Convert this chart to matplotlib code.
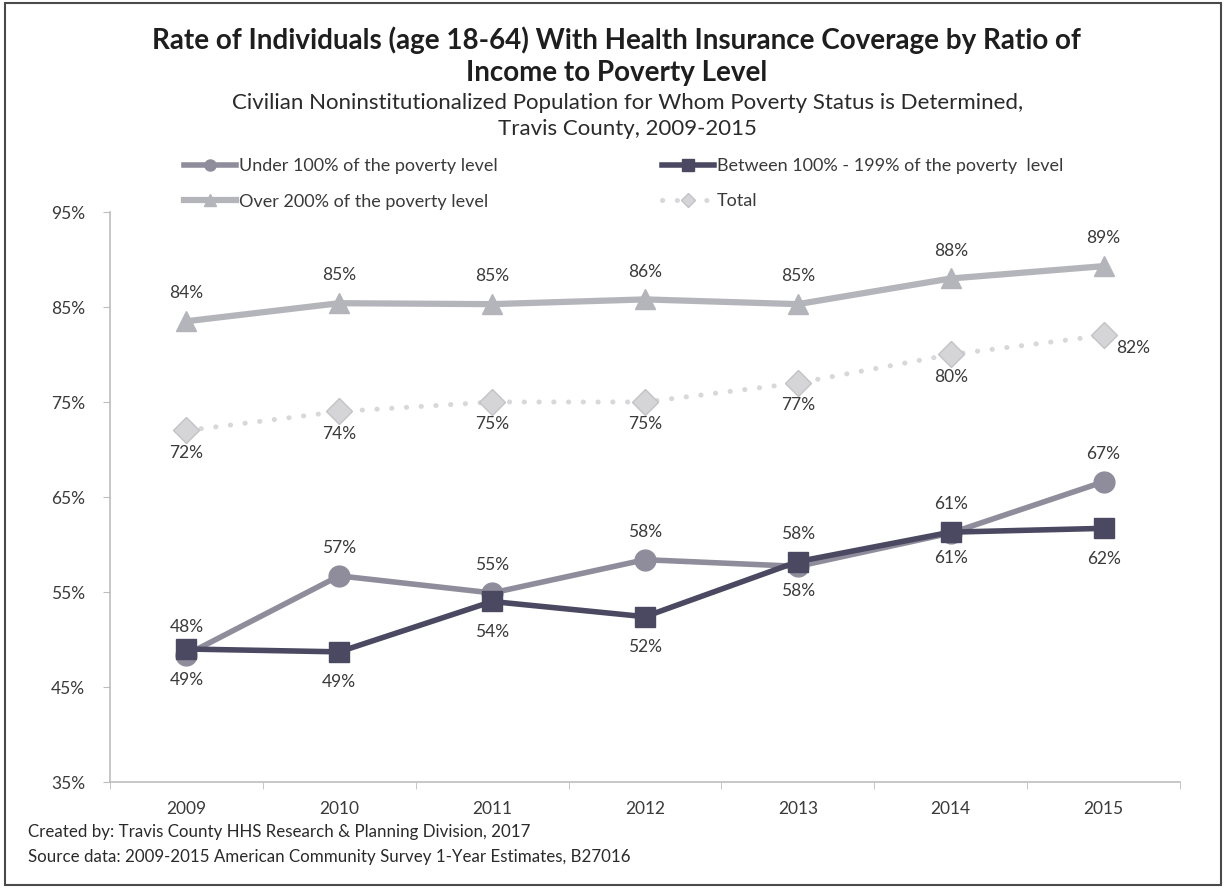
import numpy as np
import matplotlib
matplotlib.use("Agg")
import matplotlib.pyplot as plt
from matplotlib.lines import Line2D
from matplotlib.patches import Rectangle

plt.rcParams['font.family'] = ['Lato', 'DejaVu Sans']

# data
years = ['2009', '2010', '2011', '2012', '2013', '2014', '2015']
under_100 = [48.4, 56.7, 54.9, 58.4, 57.7, 61.2, 66.6]
between_100_199 = [49.0, 48.7, 54.0, 52.4, 58.2, 61.3, 61.7]
over_200 = [83.5, 85.4, 85.3, 85.8, 85.3, 88.0, 89.3]
total = [72.0, 74.0, 75.0, 75.0, 77.0, 80.0, 82.0]
y_ticks = [35, 45, 55, 65, 75, 85, 95]

# where each value label goes (above / below the point)
under_pos = ['up', 'up', 'up', 'up', 'down', 'down', 'up']
between_pos = ['down', 'down', 'down', 'down', 'up', 'up', 'down']

c_under = '#8f8d9b'
c_between = '#4b4962'
c_over = '#b4b4bb'
c_total = '#d8d8db'
txt = '#3a3a3a'

fig = plt.figure(figsize=(12.25, 8.88), dpi=100)
ax = fig.add_axes([110 / 1225, 1 - 782 / 888, 1070 / 1225, 570 / 888])
x = np.arange(len(years))

ax.plot(x, total, color=c_total, lw=3.6, linestyle=(0, (0.05, 2.9)),
        dash_capstyle='round', marker='D', ms=13, mfc='#d5d5d8', mec='#c3c3c7', mew=1, zorder=2)
ax.plot(x, over_200, color=c_over, lw=4.5, marker='^', ms=15, mfc=c_over, mec=c_over, zorder=3)
ax.plot(x, under_100, color=c_under, lw=4, marker='o', ms=15, mfc=c_under, mec=c_under, zorder=4)
ax.plot(x, between_100_199, color=c_between, lw=4, marker='s', ms=14, mfc=c_between, mec=c_between, zorder=5)

def label(xi, v, dy, dx=0, ha='center'):
    ax.annotate('%d%%' % round(v), (xi, v), xytext=(dx, dy), textcoords='offset points',
                ha=ha, va='center', fontsize=12.5, color=txt)

for i in range(len(years)):
    label(i, over_200[i], 20)
    if i == len(years) - 1:
        label(i, total[i], -9, dx=9, ha='left')
    else:
        label(i, total[i], -16)
    label(i, under_100[i], 20 if under_pos[i] == 'up' else -18)
    label(i, between_100_199[i], 20 if between_pos[i] == 'up' else -22)

ax.set_xlim(-0.5, len(years) - 0.5)
ax.set_ylim(35, 95)
ax.set_yticks(y_ticks)
ax.set_yticklabels(['%d%%' % t for t in y_ticks])
ax.set_xticks(x)
ax.set_xticklabels(years)
ax.set_xticks(np.arange(len(years) + 1) - 0.5, minor=True)
ax.tick_params(axis='x', which='major', length=0, pad=14, labelsize=12.5, labelcolor=txt)
ax.tick_params(axis='x', which='minor', length=5, color='#bdbdbd', direction='out')
ax.tick_params(axis='y', length=5, color='#bdbdbd', pad=13, labelsize=12.5, labelcolor=txt)
for s in ['top', 'right']:
    ax.spines[s].set_visible(False)
for s in ['left', 'bottom']:
    ax.spines[s].set_color('#bdbdbd')
    ax.spines[s].set_linewidth(1.2)

# titles
fig.text(0.503, 1 - 40 / 888, 'Rate of Individuals (age 18-64) With Health Insurance Coverage by Ratio of',
         ha='center', va='center', fontsize=20, fontweight='bold', color='#1e1e1e')
fig.text(0.503, 1 - 73 / 888, 'Income to Poverty Level',
         ha='center', va='center', fontsize=20, fontweight='bold', color='#1e1e1e')
fig.text(0.512, 1 - 103 / 888, 'Civilian Noninstitutionalized Population for Whom Poverty Status is Determined,',
         ha='center', va='center', fontsize=16, color='#2a2a2a')
fig.text(0.512, 1 - 129 / 888, 'Travis County, 2009-2015',
         ha='center', va='center', fontsize=16, color='#2a2a2a')

# legend, two columns
h_under = Line2D([], [], color=c_under, lw=4, marker='o', ms=8, mfc=c_under, mec=c_under)
h_over = Line2D([], [], color=c_over, lw=4.5, marker='^', ms=8, mfc=c_over, mec=c_over)
h_between = Line2D([], [], color=c_between, lw=4, marker='s', ms=8, mfc=c_between, mec=c_between)
h_total = Line2D([], [], color=c_total, lw=3.6, linestyle=(0, (0.05, 2.9)), dash_capstyle='round',
                 marker='D', ms=7, mfc='#d5d5d8', mec='#c3c3c7')
leg_kw = dict(frameon=False, fontsize=13, handlelength=2.9, handletextpad=0.12,
              labelspacing=1.08, borderpad=0, borderaxespad=0, loc='upper left', labelcolor=txt)
leg1 = fig.legend([h_under, h_over], ['Under 100% of the poverty level', 'Over 200% of the poverty level'],
                  bbox_to_anchor=(184 / 1225, 1 - 158 / 888), **leg_kw)
leg2 = fig.legend([h_between, h_total], ['Between 100% - 199% of the poverty  level', 'Total'],
                  bbox_to_anchor=(662 / 1225, 1 - 158 / 888), **leg_kw)

# footer
fig.text(28 / 1225, 1 - 832 / 888, 'Created by: Travis County HHS Research & Planning Division, 2017',
         ha='left', va='center', fontsize=12.2, color='#2a2a2a')
fig.text(28 / 1225, 1 - 857 / 888, 'Source data: 2009-2015 American Community Survey 1-Year Estimates, B27016',
         ha='left', va='center', fontsize=12.2, color='#2a2a2a')

# outer frame
fig.patches.append(Rectangle((5 / 1225, 3 / 888), 1216 / 1225, 882 / 888, transform=fig.transFigure,
                             fill=False, edgecolor='#4a4a4a', lw=1.5))

fig.savefig('out.png', dpi=100)
